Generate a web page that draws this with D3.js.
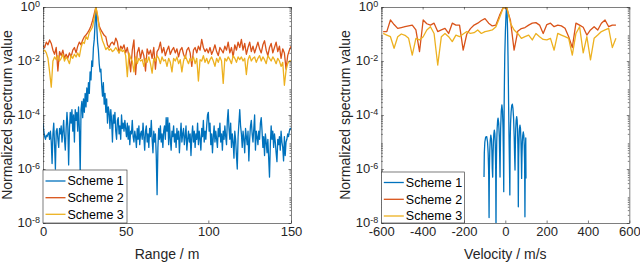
<!DOCTYPE html>
<html>
<head>
<meta charset="utf-8">
<script src="https://cdn.jsdelivr.net/npm/d3@7"></script>
<style>
  body { margin: 0; background: #fff; }
  text { font-family: "Liberation Sans", Arial, Helvetica, sans-serif; }
</style>
</head>
<body>
<svg id="fig" width="640" height="263"></svg>
<script>
// values are stored as log10 of the normalized spectrum

var seriesNames = ["Scheme 1", "Scheme 2", "Scheme 3"];
var seriesColors = ["#0072BD", "#D95319", "#EDB120"];

// ---- left panel: range ----
var rangeX1 = d3.range(0, 150.01, 0.5); // 0.5 m bins for scheme 1
var rangeX23 = d3.range(0, 151, 1);     // 1 m bins for schemes 2 and 3

var rangeS1 = [
  -4.3,-4.6,-4.8,-4.9,-4.75,-4.8,-4.7,-4.65,-4.9,-4.6,
  -5.0,-5.8,-4.7,-4.3,-5.1,-6.0,-4.6,-4.5,-4.9,-5.2,
  -4.5,-4.7,-4.4,-5.0,-4.6,-4.2,-4.9,-5.3,-4.5,-3.9,
  -4.4,-5.85,-4.5,-3.9,-4.3,-3.8,-4.6,-4.0,-5.0,-3.8,
  -4.2,-3.9,-4.6,-3.7,-4.5,-6.15,-3.8,-3.5,-4.1,-3.4,
  -3.9,-3.2,-3.7,-3.0,-3.5,-2.8,-3.2,-2.4,-2.7,-2.0,
  -2.2,-1.5,-1.2,-0.6,0,-0.7,-1.3,-1.6,-2.1,-2.4,
  -2.3,-2.9,-3.3,-2.8,-3.6,-3.2,-3.9,-3.4,-4.3,-3.7,
  -3.9,-4.5,-3.8,-4.2,-5.0,-4.0,-4.3,-3.9,-4.6,-4.9,
  -4.2,-4.1,-4.7,-4.4,-4.9,-4.0,-4.5,-4.3,-4.6,-4.2,
  -4.5,-4.8,-4.3,-4.9,-4.4,-5.1,-4.6,-4.7,-4.2,-4.8,
  -5.0,-4.6,-4.8,-5.2,-4.5,-4.9,-4.4,-5.1,-4.7,-4.6,
  -4.9,-4.3,-4.8,-5.3,-4.6,-4.4,-5.0,-4.7,-5.2,-4.5,
  -4.8,-4.2,-4.9,-5.4,-4.6,-5.0,-4.7,-5.5,-6.95,-5.2,
  -4.5,-4.9,-4.4,-5.0,-4.7,-5.2,-4.6,-4.4,-4.9,-4.1,
  -4.6,-4.1,-5.1,-4.3,-4.9,-5.3,-4.6,-4.8,-4.4,-5.0,
  -4.7,-5.2,-4.5,-4.9,-4.6,-5.4,-4.8,-4.3,-5.0,-4.7,
  -4.5,-5.1,-4.8,-4.4,-5.3,-4.9,-4.6,-5.0,-4.7,-5.5,
  -4.8,-4.4,-5.0,-4.6,-5.2,-4.7,-4.9,-4.3,-5.1,-4.6,
  -4.9,-5.3,-4.5,-4.8,-4.2,-5.0,-4.6,-4.9,-4.4,-4.0,
  -3.9,-4.6,-4.3,-5.1,-4.7,-5.4,-4.8,-4.4,-5.0,-4.6,
  -4.9,-5.2,-4.5,-4.8,-4.3,-5.0,-4.7,-5.3,-4.6,-4.9,
  -4.4,-4.8,-5.1,-4.2,-3.8,-4.5,-4.9,-4.3,-5.2,-4.7,
  -5.0,-5.6,-4.6,-4.9,-5.5,-6.0,-4.8,-4.3,-3.8,-4.4,
  -4.7,-5.2,-4.6,-4.9,-5.4,-4.5,-4.8,-5.1,-4.6,-5.7,
  -4.9,-4.4,-4.2,-4.7,-5.0,-4.5,-4.0,-5.3,-4.6,-4.8,
  -5.1,-4.6,-4.9,-4.3,-4.1,-4.6,-5.2,-4.8,-5.5,-4.7,
  -5.0,-5.4,-4.9,-5.6,-6.3,-5.1,-4.4,-4.9,-4.6,-5.2,
  -4.7,-5.0,-5.4,-5.73,-4.9,-5.1,-4.8,-5.3,-4.6,-5.0,
  -5.2,-5.7,-4.8,-5.5,-5.0,-4.9,-4.7,-4.8,-4.6,-4.5,
  -4.5
];

var rangeS2 = [
  -1.45,-1.5,-1.3,-1.4,-1.22,-1.35,-1.6,-1.75,-1.5,-2.37,
  -1.65,-1.8,-1.6,-1.9,-1.75,-1.9,-1.7,-1.85,-1.6,-1.5,
  -1.7,-1.45,-1.3,-1.4,-1.22,-1.1,-1.04,-0.95,-0.85,-0.7,
  -0.5,-0.25,0,-0.35,-0.7,-0.85,-0.95,-1.05,-1.1,-1.4,
  -1.5,-1.35,-1.3,-1.4,-1.15,-1.3,-1.7,-1.45,-1.55,-1.4,
  -1.7,-1.5,-1.85,-2.4,-1.6,-1.22,-2.5,-1.7,-1.5,-1.9,
  -1.6,-1.8,-2.37,-1.55,-1.75,-1.6,-1.9,-1.5,-2.3,-1.65,
  -1.55,-1.3,-1.7,-1.5,-1.8,-1.6,-1.45,-1.75,-1.6,-1.5,
  -1.7,-1.55,-1.85,-1.6,-1.5,-1.75,-1.9,-1.6,-1.5,-1.7,
  -2.2,-1.6,-1.5,-1.7,-1.45,-1.6,-1.2,-1.5,-1.65,-1.55,
  -1.7,-1.5,-1.75,-1.6,-1.4,-1.65,-1.8,-1.5,-1.6,-1.7,
  -1.45,-1.6,-1.3,-1.7,-1.5,-1.85,-1.4,-1.6,-1.3,-1.5,
  -1.2,-1.6,-1.35,-1.75,-1.5,-1.3,-1.65,-1.45,-1.7,-1.5,
  -1.3,-1.55,-1.7,-1.4,-1.25,-1.6,-1.8,-1.5,-1.35,-1.7,
  -1.5,-1.3,-1.65,-1.45,-1.9,-1.55,-1.7,-2.3,-1.8,-1.6,
  -1.45
];

var rangeS3 = [
  -1.65,-1.6,-1.7,-1.9,-2.4,-2.97,-2.0,-1.85,-1.95,-1.8,
  -2.0,-1.9,-1.75,-2.0,-1.85,-1.95,-2.1,-1.8,-1.9,-1.75,
  -1.85,-1.7,-1.84,-1.5,-1.3,-1.35,-1.1,-1.2,-0.95,-0.85,
  -0.73,-0.4,0,-0.3,-0.78,-1.0,-1.25,-1.4,-1.58,-1.5,
  -1.6,-1.55,-1.65,-1.6,-1.5,-1.6,-1.7,-1.55,-1.65,-1.6,
  -1.8,-2.58,-1.7,-1.9,-2.0,-2.4,-1.85,-2.1,-1.9,-2.0,
  -1.95,-2.2,-1.9,-2.05,-1.85,-2.1,-2.45,-1.9,-2.0,-1.8,
  -1.9,-2.1,-1.85,-2.0,-1.95,-2.2,-1.9,-2.05,-2.4,-1.9,
  -2.0,-1.85,-2.1,-1.95,-2.4,-2.0,-1.8,-1.95,-2.1,-1.9,
  -2.0,-1.85,-2.1,-1.9,-2.74,-1.95,-2.0,-1.8,-2.05,-1.9,
  -2.1,-1.95,-1.85,-2.0,-2.2,-1.9,-2.05,-1.85,-2.0,-2.83,
  -1.9,-2.0,-1.85,-1.95,-2.1,-1.8,-1.9,-2.05,-1.85,-1.95,
  -1.85,-2.0,-1.9,-2.5,-1.95,-1.8,-2.0,-1.9,-1.85,-2.05,
  -1.9,-1.8,-2.0,-1.85,-1.95,-2.1,-1.8,-1.9,-2.0,-1.85,
  -1.95,-2.1,-1.9,-2.0,-2.2,-2.05,-2.9,-2.35,-2.1,-2.0,
  -2.0
];

// ---- right panel: velocity ----
var velX23 = d3.range(65).map(function(i) { return -591 + 17.6 * i; });

var velS2 = [
  -0.91,-0.91,-0.48,-0.65,-0.79,-0.76,-0.73,-0.7,-0.67,-0.85,
  -1.65,-0.48,-0.62,-0.67,-0.6,-0.91,-0.85,-0.79,-0.98,-0.6,
  -0.67,-0.67,-1.6,-1.0,-0.8,-0.67,-0.6,-0.5,-0.43,-0.6,
  -0.7,-0.67,-0.31,-0.02,-0.05,-0.5,-1.6,-0.9,-0.8,-0.76,
  -0.67,-0.6,-0.58,-0.67,-0.98,-0.65,-0.6,-0.73,-0.67,-0.7,
  -0.79,-1.1,-1.5,-0.6,-0.67,-0.75,-1.04,-0.85,-0.73,-0.85,
  -0.6,-0.48,-0.73,-0.67,-0.67
];

var velS3 = [
  -0.98,-1.04,-1.1,-1.53,-1.1,-1.0,-1.05,-1.16,-1.78,-1.16,
  -1.22,-1.1,-0.85,-0.73,-0.98,-2.15,-1.1,-0.98,-1.1,-1.28,
  -1.04,-1.1,-1.0,-0.91,-0.98,-0.95,-0.85,-0.98,-0.91,-0.88,
  -0.85,-0.73,-0.4,-0.03,0,-0.6,-0.85,-0.98,-1.16,-1.1,
  -1.04,-1.22,-0.98,-1.1,-1.2,-1.22,-1.16,-1.6,-0.98,-1.04,
  -1.1,-1.16,-1.78,-0.98,-0.73,-1.7,-1.1,-1.96,-1.16,-1.04,
  -0.91,-0.85,-0.79,-1.5,-1.16
];

var velX1 = [
  -103,-101.5,-99,-95,-90,-86,-83,-80.5,-78.5,
  -77,-75,-73,-70,-67,-65,-63,-61,
  -59.5,-57.5,-55.5,-53,-50.5,-48.5,-46.5,-45,
  -43.5,-41.5,-39.5,-37,-35,-32,-29,-27,-25.5,
  -24,-22.5,-19.5,-16.5,-13.5,-11,-9,-7.5,
  -6.5,-5.5,-4,-2.5,0.5,3.5,6,8.5,11,13,14.5,16,18,20,22,
  23.5,25.5,28,31,34,37,40,43,45,47,
  48.5,50.5,52.5,55,57.5,59.5,61.5,63,
  64.5,66.5,68.5,71,73.5,75.5,77.5,79,
  80.5,82.5,84.5,87,89.5,91.5,93.5,95,
  96.5,98,99,100
];
var velS1 = [
  -6.3,-5.4,-5.0,-4.82,-4.8,-5.0,-5.4,-6.1,-7.8,
  -6.0,-5.3,-4.95,-4.75,-4.9,-5.3,-6.0,-6.3,
  -5.6,-5.0,-4.7,-4.56,-4.7,-5.1,-6.0,-8.3,
  -6.0,-5.0,-4.5,-4.2,-4.12,-4.3,-4.8,-5.6,-6.3,
  -5.3,-4.5,-3.85,-3.63,-3.85,-4.5,-5.5,-6.84,
  -5.0,-3.6,-2.6,-1.78,-0.9,-0.3,0,-0.15,-0.9,-1.78,-2.6,-3.6,-4.8,-5.8,-6.96,
  -5.0,-4.3,-3.9,-3.65,-3.6,-3.75,-4.1,-4.8,-5.5,-6.04,
  -5.2,-4.5,-4.2,-4.06,-4.2,-4.6,-5.4,-7.4,
  -5.6,-4.9,-4.5,-4.38,-4.5,-4.9,-5.6,-6.35,
  -5.6,-5.0,-4.75,-4.63,-4.75,-5.1,-5.8,-7.77,
  -5.8,-5.1,-4.85,-6.35
];

var yTicks = [1e0, 1e-2, 1e-4, 1e-6, 1e-8];
var yTickExp = ["0", "-2", "-4", "-6", "-8"];
var rangeTicks = [0, 50, 100, 150];
var velTicks = [-600, -400, -200, 0, 200, 400, 600];

var plotTop = 7, plotBottom = 223;
var axisColor = "#262626";

var svg = d3.select("#fig");
var defs = svg.append("defs");

// minor ticks for the log axis: 2..9 x 10^k
var yMinor = [];
for (var k = -8; k < 0; k++) {
  for (var m = 2; m < 10; m++) yMinor.push(m * Math.pow(10, k));
}

function drawPanel(p) {
  var x = d3.scaleLinear().domain(p.xDomain).range([p.left, p.right]);
  var y = d3.scaleLog().domain([1e-8, 1]).range([plotBottom, plotTop]);
  var g = svg.append("g");

  defs.append("clipPath").attr("id", "clip-" + p.id)
    .append("rect")
      .attr("x", p.left).attr("y", plotTop)
      .attr("width", p.right - p.left).attr("height", plotBottom - plotTop);

  var line = d3.line()
    .x(function(d) { return x(d[0]); })
    .y(function(d) { return y(Math.pow(10, d[1])); });

  // data lines (scheme 1 first, scheme 3 on top)
  p.series.forEach(function(s, i) {
    g.append("path")
      .datum(d3.zip(s.x, s.v))
      .attr("clip-path", "url(#clip-" + p.id + ")")
      .attr("fill", "none")
      .attr("stroke", seriesColors[i])
      .attr("stroke-width", 1.3)
      .attr("stroke-linejoin", "round")
      .attr("d", line);
  });

  // axes - ticks point inward, box on all four sides
  var fmt = function(d) { return String(d); };
  var xb = g.append("g").attr("transform", "translate(0," + plotBottom + ")")
    .call(d3.axisBottom(x).tickValues(p.xTicks).tickSizeInner(-2.5).tickSizeOuter(0).tickPadding(4).tickFormat(fmt));
  var xt = g.append("g").attr("transform", "translate(0," + plotTop + ")")
    .call(d3.axisTop(x).tickValues(p.xTicks).tickSizeInner(-2.5).tickSizeOuter(0).tickFormat(""));
  var yl = g.append("g").attr("transform", "translate(" + p.left + ",0)")
    .call(d3.axisLeft(y).tickValues(yTicks).tickSizeInner(-2.5).tickSizeOuter(0).tickFormat(""));
  var yr = g.append("g").attr("transform", "translate(" + p.right + ",0)")
    .call(d3.axisRight(y).tickValues(yTicks).tickSizeInner(-2.5).tickSizeOuter(0).tickFormat(""));
  var ylm = g.append("g").attr("transform", "translate(" + p.left + ",0)")
    .call(d3.axisLeft(y).tickValues(yMinor).tickSizeInner(-1.5).tickSizeOuter(0).tickFormat(""));
  var yrm = g.append("g").attr("transform", "translate(" + p.right + ",0)")
    .call(d3.axisRight(y).tickValues(yMinor).tickSizeInner(-1.5).tickSizeOuter(0).tickFormat(""));
  ylm.select(".domain").remove();
  yrm.select(".domain").remove();

  [xb, xt, yl, yr, ylm, yrm].forEach(function(a) {
    a.selectAll("path, line").attr("stroke", axisColor).attr("stroke-width", 0.6);
  });
  xb.selectAll("text").attr("font-size", 13).attr("fill", axisColor)
    .attr("font-family", "Liberation Sans, Arial, sans-serif");

  // y tick labels as 10^k
  yTicks.forEach(function(v, i) {
    var t = g.append("text")
      .attr("x", p.left - 3)
      .attr("y", y(v))
      .attr("dy", "0.3em")
      .attr("text-anchor", "end")
      .attr("font-size", 13)
      .attr("fill", axisColor);
    t.append("tspan").text("10");
    t.append("tspan").attr("dy", "-0.45em").attr("font-size", 9).text(yTickExp[i]);
  });

  // axis labels
  g.append("text")
    .attr("x", (p.left + p.right) / 2).attr("y", 259)
    .attr("text-anchor", "middle").attr("font-size", 14).attr("fill", axisColor)
    .text(p.xLabel);
  g.append("text")
    .attr("transform", "translate(" + p.yLabelX + "," + (plotTop + plotBottom) / 2 + ") rotate(-90)")
    .attr("dy", "0.35em")
    .attr("text-anchor", "middle").attr("font-size", 14).attr("fill", axisColor)
    .text("Normalized spectrum value");

  // legend, lower left corner
  var lg = g.append("g");
  lg.append("rect")
    .attr("x", p.left).attr("y", p.legendTop)
    .attr("width", p.legendW).attr("height", plotBottom - p.legendTop)
    .attr("fill", "#fff").attr("stroke", axisColor).attr("stroke-width", 0.6);
  seriesNames.forEach(function(name, i) {
    var yy = p.legendRows[i];
    lg.append("line")
      .attr("x1", p.left + 2.5).attr("x2", p.left + 22.5)
      .attr("y1", yy).attr("y2", yy)
      .attr("stroke", seriesColors[i]).attr("stroke-width", 1.3);
    lg.append("text")
      .attr("x", p.left + 24.5).attr("y", yy).attr("dy", "0.35em")
      .attr("font-size", 12.5).attr("fill", "#000")
      .text(name);
  });
}

drawPanel({
  id: "range",
  left: 43, right: 291,
  xDomain: [0, 150],
  xTicks: rangeTicks,
  xLabel: "Range / m",
  yLabelX: 7,
  legendTop: 170, legendW: 84, legendRows: [181, 197.7, 214.3],
  series: [
    { x: rangeX1, v: rangeS1 },
    { x: rangeX23, v: rangeS2 },
    { x: rangeX23, v: rangeS3 }
  ]
});

drawPanel({
  id: "vel",
  left: 381.3, right: 629.3,
  xDomain: [-600, 600],
  xTicks: velTicks,
  xLabel: "Velocity / m/s",
  yLabelX: 345,
  legendTop: 172, legendW: 83, legendRows: [182.5, 199.3, 216],
  series: [
    { x: velX1, v: velS1 },
    { x: velX23, v: velS2 },
    { x: velX23, v: velS3 }
  ]
});
</script>
</body>
</html>
